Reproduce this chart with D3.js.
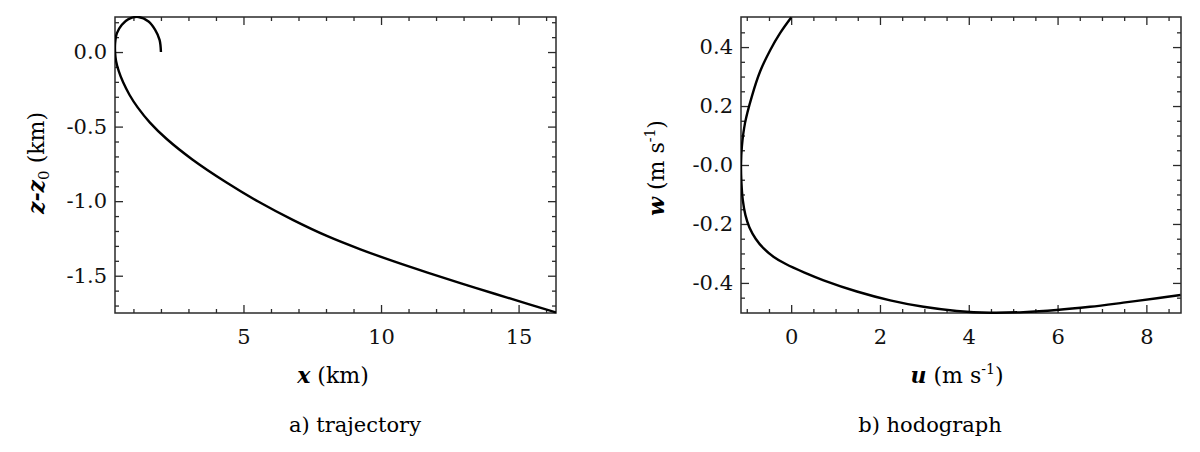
<!DOCTYPE html>
<html>
<head>
<meta charset="utf-8">
<script src="https://cdn.jsdelivr.net/npm/d3@7"></script>
<style>
body { margin: 0; background: #fff; }
</style>
</head>
<body>
<script>
// a) trajectory, x (km) and z-z0 (km)
var trajX = [2.0, 1.95, 1.79, 1.55, 1.18, 0.82, 0.58, 0.40, 0.335, 0.335, 0.37, 0.47, 0.63, 0.86, 1.16, 1.6, 2.21,
  3.14, 4.37, 5.55, 6.81, 8.03, 9.25, 10.47, 11.69, 12.91, 14.13, 15.36, 16.36];
var trajZ = [0.0, 0.082, 0.149, 0.205, 0.235, 0.221, 0.183, 0.127, 0.06, -0.007, -0.061, -0.13, -0.205, -0.288, -0.373, -0.473, -0.583,
  -0.72, -0.873, -1.004, -1.127, -1.233, -1.323, -1.404, -1.479, -1.551, -1.621, -1.690, -1.746];
var trajXTicks = [5, 10, 15];
var trajXLabels = ["5", "10", "15"];
var trajZTicks = [0, -0.5, -1.0, -1.5];
var trajZLabels = ["0.0", "-0.5", "-1.0", "-1.5"];

// b) hodograph, u and w (m s-1)
var hodoU = [0.0, -0.25, -0.47, -0.70, -0.885, -1.04, -1.11, -1.13, -1.12, -1.09, -1.03, -0.94, -0.80, -0.62, -0.40, -0.12,
  0.3, 0.73, 1.48, 2.23, 2.98, 3.73, 4.48, 5.23, 5.98, 6.73, 7.48, 8.24, 8.77];
var hodoW = [0.5, 0.447, 0.39, 0.317, 0.233, 0.142, 0.063, 0.0, -0.06, -0.118, -0.17, -0.212, -0.25, -0.283, -0.311, -0.336,
  -0.365, -0.391, -0.429, -0.459, -0.481, -0.495, -0.501, -0.499, -0.492, -0.481, -0.467, -0.452, -0.441];
var hodoUTicks = [0, 2, 4, 6, 8];
var hodoULabels = ["0", "2", "4", "6", "8"];
var hodoWTicks = [0.4, 0.2, 0, -0.2, -0.4];
var hodoWLabels = ["0.4", "0.2", "-0.0", "-0.2", "-0.4"];

var serif = "DejaVu Serif, serif";

var svg = d3.select("body")
  .append("svg")
  .attr("width", 1200)
  .attr("height", 452)
  .style("font-family", serif)
  .style("background-color", "white");

var labelFmt = function(ticks, labels){
  return function(d){ return labels[ticks.indexOf(d)]; };
};

var drawPanel = function(p){
  var x = d3.scaleLinear().domain(p.xDomain).range([p.left, p.right]);
  var y = d3.scaleLinear().domain(p.yDomain).range([p.bottom, p.top]);
  var g = svg.append("g");

  // every tick points inward, on all four sides
  var addAxis = function(axis, tx, ty){
    var a = g.append("g")
      .attr("transform", "translate(" + tx + "," + ty + ")")
      .call(axis)
      .attr("font-family", null)
      .attr("font-size", 21)
      .attr("color", "#2a2a2a");
    a.select(".domain").remove();
    a.selectAll("line").attr("stroke-width", 1.3);
    a.selectAll("text").attr("fill", "#111");
  };
  var sides = [
    [d3.axisBottom(x), 0, p.bottom, p.xTicks, p.xMinor, labelFmt(p.xTicks, p.xLabels), 16],
    [d3.axisTop(x), 0, p.top, p.xTicks, p.xMinor, "", 0],
    [d3.axisLeft(y), p.left, 0, p.yTicks, p.yMinor, labelFmt(p.yTicks, p.yLabels), 8],
    [d3.axisRight(y), p.right, 0, p.yTicks, p.yMinor, "", 0]
  ];
  sides.forEach(function(s){
    addAxis(s[0].tickValues(s[3]).tickFormat(s[5]).tickSizeInner(-8).tickSizeOuter(0).tickPadding(s[6]), s[1], s[2]);
    // minor ticks
    addAxis(s[0].tickValues(s[4]).tickFormat("").tickSizeInner(-4).tickSizeOuter(0), s[1], s[2]);
  });

  // frame
  g.append("rect")
    .attr("x", p.left).attr("y", p.top)
    .attr("width", p.right - p.left).attr("height", p.bottom - p.top)
    .attr("fill", "none").attr("stroke", "#2a2a2a").attr("stroke-width", 1.5);

  g.append("clipPath").attr("id", p.id + "-clip")
    .append("rect")
    .attr("x", p.left).attr("y", p.top - 1)
    .attr("width", p.right - p.left).attr("height", p.bottom - p.top + 2);

  var line = d3.line()
    .x(function(i){ return x(p.xs[i]); })
    .y(function(i){ return y(p.ys[i]); })
    .curve(d3.curveCatmullRom.alpha(0.5));

  g.append("path")
    .datum(d3.range(p.xs.length))
    .attr("clip-path", "url(#" + p.id + "-clip)")
    .attr("d", line)
    .attr("fill", "none")
    .attr("stroke", "#000")
    .attr("stroke-width", 2.4);

  return g;
};

var ga = drawPanel({
  id: "traj", left: 115, right: 556, top: 17, bottom: 313,
  xDomain: [0.33, 16.36], yDomain: [-1.75, 0.235],
  xs: trajX, ys: trajZ,
  xTicks: trajXTicks, xLabels: trajXLabels,
  xMinor: d3.range(1, 17).filter(function(i){ return i % 5 !== 0; }),
  yTicks: trajZTicks, yLabels: trajZLabels,
  yMinor: d3.range(-17, 3).filter(function(i){ return i % 5 !== 0; }).map(function(i){ return i / 10; })
});

var gb = drawPanel({
  id: "hodo", left: 741, right: 1181, top: 17, bottom: 313,
  xDomain: [-1.13, 8.78], yDomain: [-0.502, 0.502],
  xs: hodoU, ys: hodoW,
  xTicks: hodoUTicks, xLabels: hodoULabels,
  xMinor: d3.range(-2, 18).filter(function(i){ return i % 4 !== 0; }).map(function(i){ return i / 2; }),
  yTicks: hodoWTicks, yLabels: hodoWLabels,
  yMinor: d3.range(-9, 10).filter(function(i){ return i % 4 !== 0; }).map(function(i){ return i / 20; })
});

// axis titles
var t;
t = ga.append("text").attr("x", 333).attr("y", 383).attr("text-anchor", "middle").attr("font-size", 22);
t.append("tspan").attr("font-weight", "bold").attr("font-style", "italic").text("x");
t.append("tspan").text(" (km)");

t = ga.append("text").attr("transform", "translate(44,163) rotate(-90)").attr("text-anchor", "middle").attr("font-size", 22);
t.append("tspan").attr("font-weight", "bold").attr("font-style", "italic").text("z-z");
t.append("tspan").attr("font-size", 15).attr("dy", 5).text("0");
t.append("tspan").attr("dy", -5).text(" (km)");

t = gb.append("text").attr("x", 957).attr("y", 383).attr("text-anchor", "middle").attr("font-size", 22);
t.append("tspan").attr("font-weight", "bold").attr("font-style", "italic").text("u");
t.append("tspan").text(" (m s");
t.append("tspan").attr("font-size", 14).attr("dy", -9).text("-1");
t.append("tspan").attr("dy", 9).text(")");

t = gb.append("text").attr("transform", "translate(664,168) rotate(-90)").attr("text-anchor", "middle").attr("font-size", 22);
t.append("tspan").attr("font-weight", "bold").attr("font-style", "italic").text("w");
t.append("tspan").text("  (m s");
t.append("tspan").attr("font-size", 14).attr("dy", -9).text("-1");
t.append("tspan").attr("dy", 9).text(")");

// captions
svg.append("text").attr("x", 355).attr("y", 432).attr("text-anchor", "middle").attr("font-size", 21).text("a) trajectory");
svg.append("text").attr("x", 930).attr("y", 432).attr("text-anchor", "middle").attr("font-size", 21).text("b) hodograph");
</script>
</body>
</html>
